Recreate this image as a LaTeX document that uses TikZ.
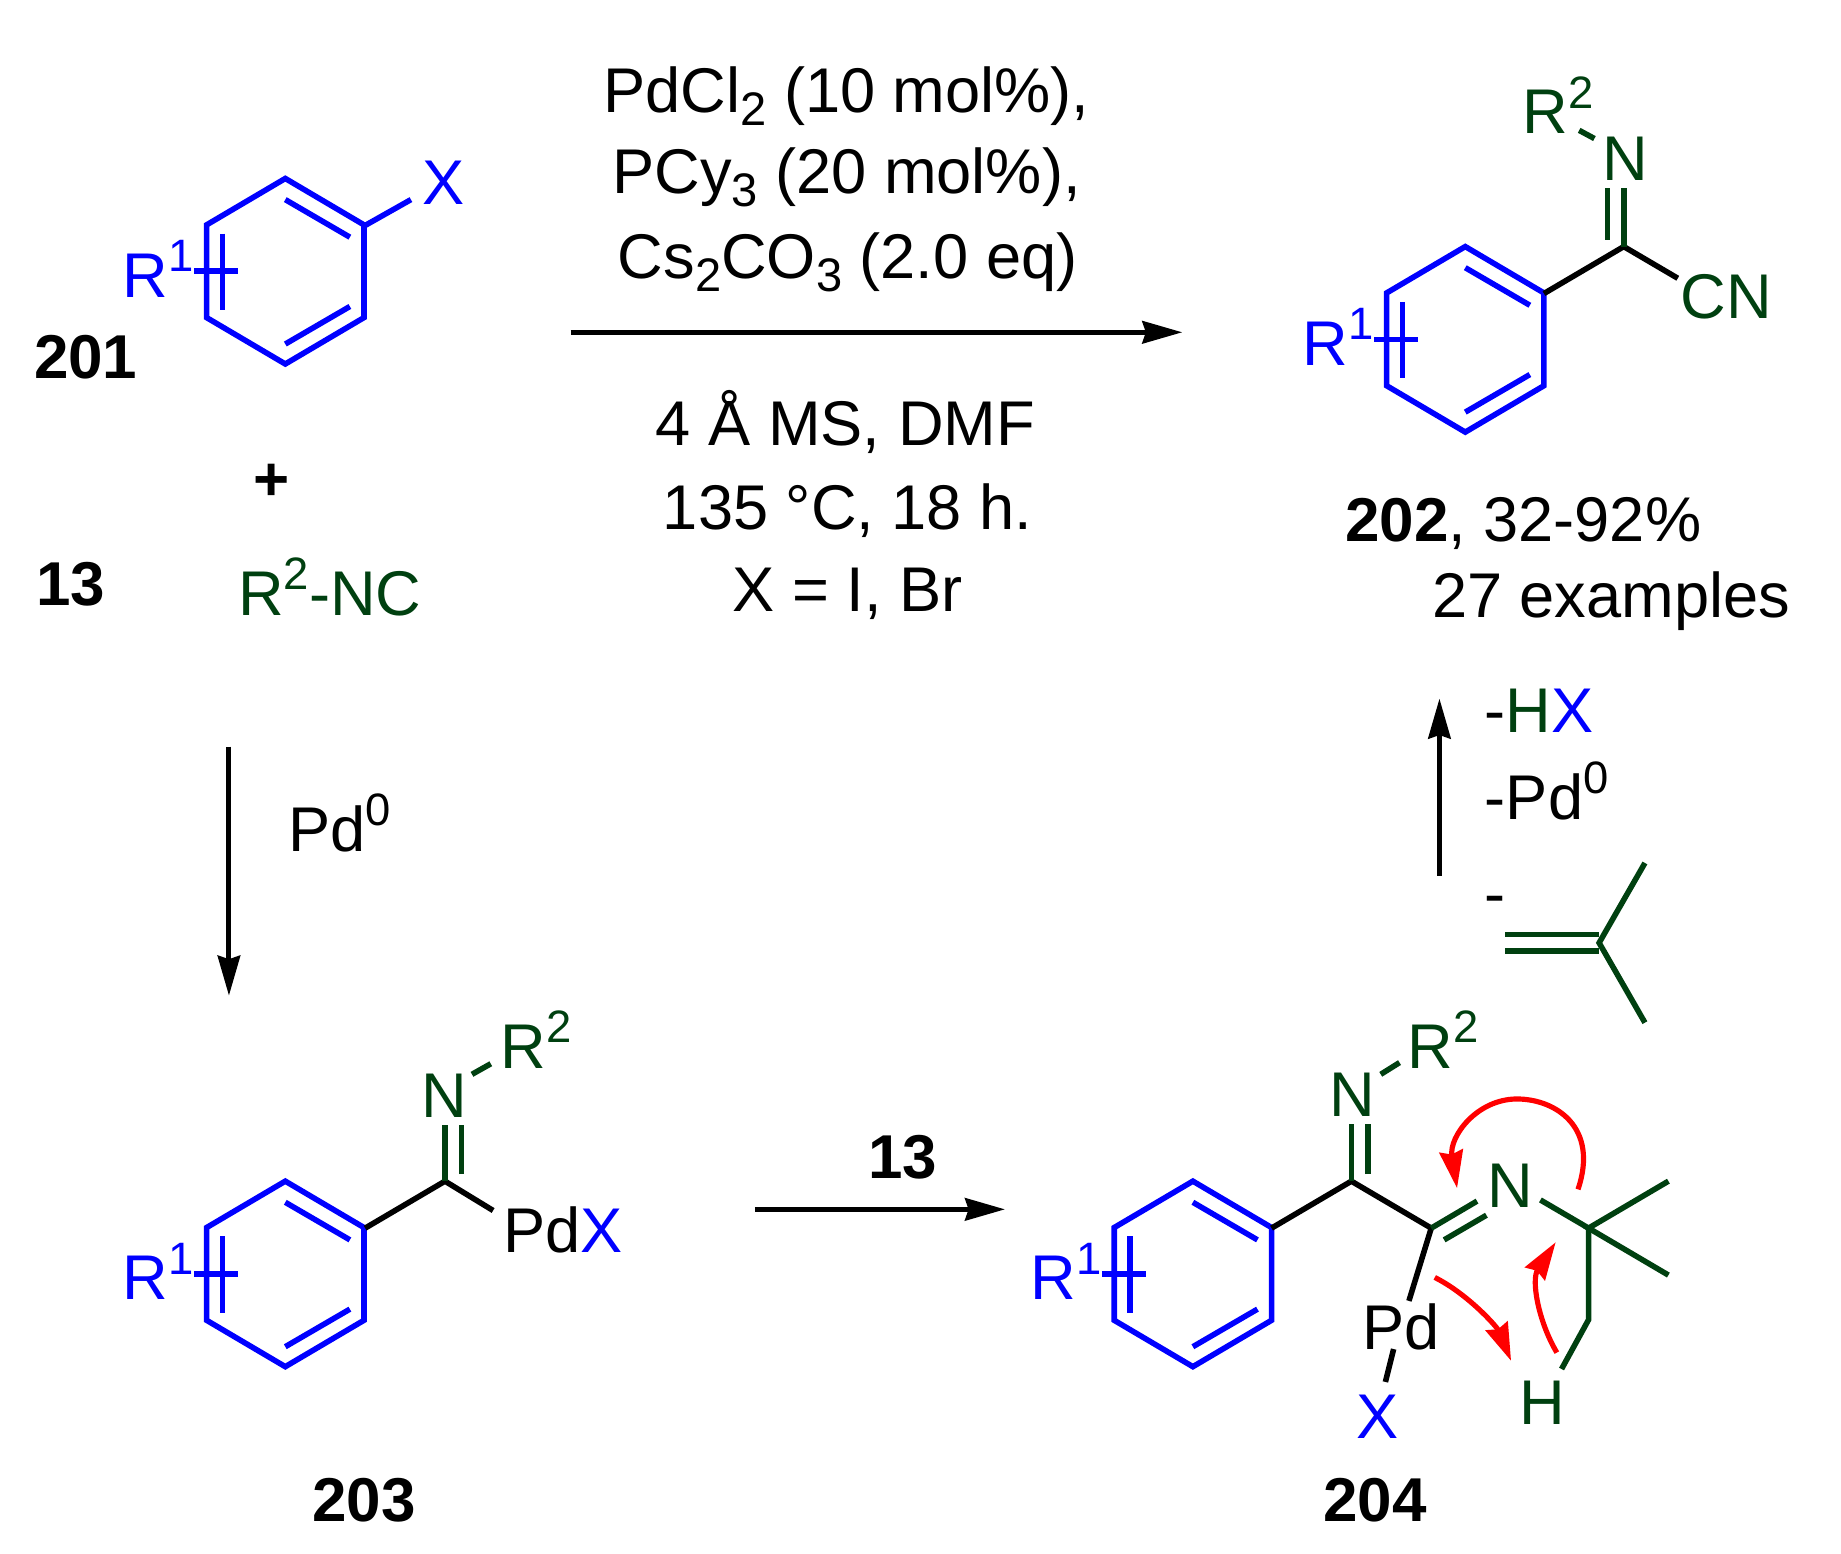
\documentclass[tikz,border=0pt]{standalone}
\usepackage{fontspec}
\setmainfont{Liberation Sans}
\usetikzlibrary{arrows.meta}
\definecolor{chemblue}{RGB}{0,0,255}
\definecolor{chemgreen}{RGB}{0,64,16}
\definecolor{chemred}{RGB}{255,0,0}
\def\supn#1{\raisebox{6.2pt}{\fontsize{11}{11}\selectfont #1}}
\def\subn#1{\raisebox{-3.2pt}{\fontsize{11.4}{11.4}\selectfont #1}}
\def\benzene(#1,#2){
	\draw[bond,chemblue,line join=miter] (#1-67,#2-39.5) -- (#1,#2-79) -- (#1+67,#2-39.5) -- (#1+67,#2+39.5) -- (#1,#2+79) -- (#1-67,#2+39.5) -- cycle;
	\draw[bond,chemblue] (#1,#2-61) -- (#1+55,#2-29);
	\draw[bond,chemblue] (#1,#2+62) -- (#1+55,#2+30);
	\draw[bond,chemblue] (#1-53.5,#2-32) -- (#1-53.5,#2+33);
	\draw[bond,chemblue] (#1-77.5,#2) -- (#1-40,#2);
	\node[lab,anchor=base west,text=chemblue] at (#1-139,#2+22) {R\supn{1}};
}
\tikzset{
	bond/.style={line width=1.35pt},
	lab/.style={inner sep=0pt,font=\fontsize{15.3}{15.3}\selectfont,anchor=base},
	num/.style={lab,font=\fontsize{15}{15}\selectfont\bfseries},
	rxn/.style={line width=1.2pt,-{Stealth[length=3.4mm,width=1.9mm,inset=0.3mm]}},
	push/.style={chemred,line width=1.25pt,-{Stealth[length=3.2mm,width=2mm,inset=0.3mm]}},
}
\begin{document}
\begin{tikzpicture}[x=0.01cm,y=-0.01cm]
	\useasboundingbox (0,0) rectangle (1568,1323);
	%%%%% 201 AND 13 %%%%%
	\benzene(243,231)
	\draw[bond,chemblue] (311,192) -- (350,170);
	\node[lab,text=chemblue] (x201) at (378,174) {X};
	\node[num] (n201) at (73,322) {201};
	\node[num] (plus) at (231,426) {+};
	\node[num] (n13) at (60,516) {13};
	\node[lab,text=chemgreen] (isonitrile) at (281,524) {R\supn{2}-NC};

	%%%%% CONDITIONS %%%%%
	\node[lab] (cond1) at (721,96) {PdCl\subn{2} (10 mol\%),};
	\node[lab] (cond2) at (721,165) {PCy\subn{3} (20 mol\%),};
	\node[lab] (cond3) at (722,237) {Cs\subn{2}CO\subn{3} (2.0 eq)};
	\node[lab] (cond4) at (720,379) {4 Å MS, DMF};
	\node[lab] (cond5) at (722,451) {135 °C, 18 h.};
	\node[lab] (cond6) at (722,521) {X = I, Br};
	\coordinate (mainS) at (486,283);
	\coordinate (mainE) at (1007,283);
	\draw[rxn] (mainS) -- (mainE);

	%%%%% 202 %%%%%
	\benzene(1248,289)
	\draw[bond] (1315,250) -- (1383,210) -- (1429,237);
	\draw[bond,chemgreen] (1383,210) -- (1383,160);
	\draw[bond,chemgreen] (1369,204) -- (1369,160);
	\draw[bond,chemgreen] (1345,111) -- (1358,118);
	\node[lab,text=chemgreen] (n202) at (1384,154) {N};
	\node[lab,text=chemgreen,anchor=base west] (r202) at (1296,114) {R\supn{2}};
	\node[lab,text=chemgreen,anchor=base west] (cn202) at (1431,271) {CN};
	\node[lab,anchor=base west] (yield202) at (1145,461) {{\fontsize{15}{15}\selectfont\bfseries 202}, 32-92\%};
	\node[lab,anchor=base west] (ex202) at (1219,526) {27 examples};

	%%%%% 204 TO 202 %%%%%
	\coordinate (upS) at (1226,746);
	\coordinate (upE) at (1226,595);
	\draw[rxn] (upS) -- (upE);
	\node[lab,anchor=base west] (hx) at (1264,624) {-\textcolor{chemgreen}{H}\textcolor{chemblue}{X}};
	\node[lab,anchor=base west] (pd0) at (1264,698) {-Pd\supn{0}};
	\node[lab,anchor=base west] (minus) at (1264,780) {-};
	\draw[bond,chemgreen] (1282,796) -- (1362,796);
	\draw[bond,chemgreen] (1282,810) -- (1362,810);
	\draw[bond,chemgreen] (1401,735) -- (1362,803) -- (1401,871);

	%%%%% 201 TO 203 %%%%%
	\coordinate (downS) at (195,636);
	\coordinate (downE) at (195,848);
	\draw[rxn] (downS) -- (downE);
	\node[lab,anchor=base west] (pd203) at (245,725) {Pd\supn{0}};

	%%%%% 203 %%%%%
	\benzene(243,1085)
	\draw[bond] (311,1046) -- (379,1006) -- (420,1031);
	\draw[bond,chemgreen] (379,1006) -- (379,958);
	\draw[bond,chemgreen] (393,1000) -- (393,958);
	\draw[bond,chemgreen] (402,915) -- (418,906);
	\node[lab,text=chemgreen] (n203) at (378,952) {N};
	\node[lab,text=chemgreen,anchor=base west] (r203) at (426,910) {R\supn{2}};
	\node[lab,anchor=base west] (pdx203) at (428,1067) {Pd\textcolor{chemblue}{X}};
	\node[num] (n203num) at (310,1296) {203};

	\coordinate (rightS) at (643,1030);
	\coordinate (rightE) at (856,1030);
	\draw[rxn] (rightS) -- (rightE);
	\node[num] (n13b) at (769,1004) {13};

	%%%%% 204 %%%%%
	\benzene(1016,1085)
	\draw[bond] (1083,1046) -- (1151,1006) -- (1219,1046) -- (1200,1108);
	\draw[bond] (1187,1149) -- (1180,1177);
	\draw[bond,chemgreen] (1151,1006) -- (1151,957);
	\draw[bond,chemgreen] (1165,1000) -- (1165,957);
	\draw[bond,chemgreen] (1176,915) -- (1192,905);
	\draw[bond,chemgreen] (1219,1046) -- (1258,1023);
	\draw[bond,chemgreen] (1230,1056) -- (1266,1035);
	\draw[bond,chemgreen] (1312,1022) -- (1353,1046);
	\draw[bond,chemgreen] (1421,1006) -- (1353,1046) -- (1421,1086);
	\draw[bond,chemgreen] (1353,1046) -- (1353,1124) -- (1330,1166);
	\node[lab,text=chemgreen] (n204a) at (1152,951) {N};
	\node[lab,text=chemgreen,anchor=base west] (r204) at (1198,910) {R\supn{2}};
	\node[lab,text=chemgreen] (n204b) at (1286,1028) {N};
	\node[lab] (pd204) at (1193,1149) {Pd};
	\node[lab,text=chemblue] (x204) at (1173,1225) {X};
	\node[lab,text=chemgreen] (h204) at (1314,1213) {H};
	\node[num] (n204num) at (1171,1296) {204};

	%%%%% CURVED ARROWS %%%%%
	\draw[push] (1344,1013) .. controls (1362,960) and (1325,936) .. (1292,936) .. controls (1258,936) and (1234,968) .. (1241,1012);
	\draw[push] (1222,1088) .. controls (1250,1102) and (1275,1130) .. (1287,1159);
	\draw[push] (1326,1152) .. controls (1310,1125) and (1304,1090) .. (1325,1058);
\end{tikzpicture}
\end{document}
